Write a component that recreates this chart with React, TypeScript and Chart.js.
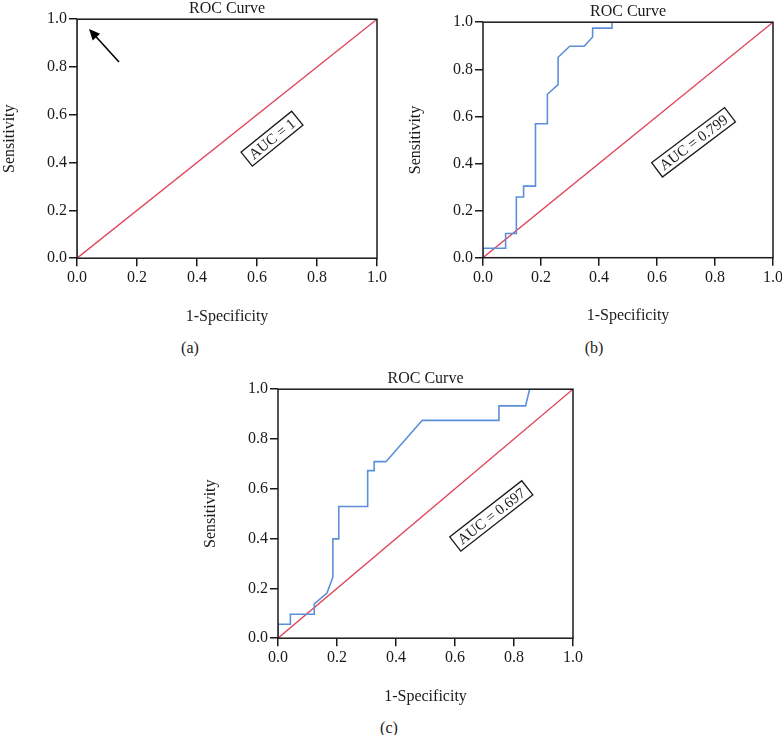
import React, { useEffect, useRef } from "react";
import { Chart, registerables } from "chart.js";

Chart.register(...registerables);

const FONT = "'Liberation Serif', 'Times New Roman', serif";
const INK = "#1a1a1a";
const BLUE = "#5b8fd9";
const RED = "#e0435a";

const chartTitle = "ROC Curve";
const xAxisLabel = "1-Specificity";
const yAxisLabel = "Sensitivity";
const tickValues = [0, 0.2, 0.4, 0.6, 0.8, 1.0];

// reference line
const diagonalX = [0, 1];
const diagonalY = [0, 1];

// panel (a): perfect classifier
const fprA = [0, 0, 1];
const tprA = [0, 1, 1];

// panel (b)
const fprB = [0, 0, 0.078, 0.078, 0.115, 0.115, 0.14, 0.14, 0.181, 0.181, 0.222, 0.222, 0.259, 0.259, 0.299, 0.349, 0.378, 0.378, 0.445, 0.445, 1];
const tprB = [0, 0.04, 0.04, 0.103, 0.103, 0.258, 0.258, 0.304, 0.304, 0.569, 0.569, 0.694, 0.735, 0.851, 0.898, 0.898, 0.937, 0.975, 0.975, 1, 1];

// panel (c)
const fprC = [0, 0, 0.042, 0.042, 0.123, 0.123, 0.166, 0.186, 0.186, 0.206, 0.206, 0.304, 0.304, 0.326, 0.326, 0.366, 0.489, 0.749, 0.749, 0.839, 0.853, 1];
const tprC = [0, 0.056, 0.056, 0.096, 0.096, 0.138, 0.181, 0.245, 0.399, 0.399, 0.529, 0.529, 0.673, 0.673, 0.709, 0.709, 0.875, 0.875, 0.933, 0.933, 1, 1];

const aucLabels = ["AUC = 1", "AUC = 0.799", "AUC = 0.697"];
const aucX = [0.65, 0.726, 0.723];
const aucY = [0.5, 0.49, 0.491];
const aucAngle = [-39, -37, -38];
const panelLabels = ["(a)", "(b)", "(c)"];

// arrow in panel (a) (tail -> head, data units)
const arrowX = [0.14, 0.04];
const arrowY = [0.821, 0.959];

const toPoints = (xs: number[], ys: number[]) => xs.map((x, i) => ({ x, y: ys[i] }));

type PanelProps = {
  left: number;
  top: number;
  width: number;
  height: number;
  plotH: number;
  fpr: number[];
  tpr: number[];
  idx: number;
  arrow?: boolean;
};

const TITLE_BLOCK = 22.2;
const Y_AXIS_W = 77;

function Panel(p: PanelProps) {
  const ref = useRef<HTMLCanvasElement | null>(null);
  useEffect(() => {
    const canvas = ref.current!;
    const xAxisH = p.height - TITLE_BLOCK - p.plotH;
    const overlay = {
      id: "overlay" + p.idx,
      afterDatasetsDraw(chart: any) {
        const ctx = chart.ctx as CanvasRenderingContext2D;
        const a = chart.chartArea;
        const xs = chart.scales.x;
        const ys = chart.scales.y;
        ctx.save();
        // frame
        ctx.strokeStyle = INK;
        ctx.lineWidth = 1.5;
        ctx.strokeRect(a.left, a.top, a.right - a.left, a.bottom - a.top);
        // title centred over the plot area
        ctx.fillStyle = INK;
        ctx.font = `16px ${FONT}`;
        ctx.textAlign = "center";
        ctx.textBaseline = "alphabetic";
        ctx.fillText(chartTitle, (a.left + a.right) / 2, a.top - 6.5);
        // AUC box
        const cx = xs.getPixelForValue(aucX[p.idx]);
        const cy = ys.getPixelForValue(aucY[p.idx]);
        ctx.translate(cx, cy);
        ctx.rotate((aucAngle[p.idx] * Math.PI) / 180);
        ctx.font = `15px ${FONT}`;
        const tw = ctx.measureText(aucLabels[p.idx]).width;
        const bw = tw + 10;
        const bh = 18;
        ctx.fillStyle = "#ffffff";
        ctx.fillRect(-bw / 2, -bh / 2, bw, bh);
        ctx.lineWidth = 1.3;
        ctx.strokeRect(-bw / 2, -bh / 2, bw, bh);
        ctx.fillStyle = INK;
        ctx.textAlign = "center";
        ctx.textBaseline = "middle";
        ctx.fillText(aucLabels[p.idx], 0, 1);
        ctx.restore();
        if (p.arrow) {
          const x0 = xs.getPixelForValue(arrowX[0]);
          const y0 = ys.getPixelForValue(arrowY[0]);
          const x1 = xs.getPixelForValue(arrowX[1]);
          const y1 = ys.getPixelForValue(arrowY[1]);
          const ang = Math.atan2(y1 - y0, x1 - x0);
          const hl = 11;
          const hw = 5;
          ctx.save();
          ctx.strokeStyle = "#000";
          ctx.fillStyle = "#000";
          ctx.lineWidth = 1.6;
          ctx.beginPath();
          ctx.moveTo(x0, y0);
          ctx.lineTo(x1 - Math.cos(ang) * hl * 0.8, y1 - Math.sin(ang) * hl * 0.8);
          ctx.stroke();
          ctx.beginPath();
          ctx.moveTo(x1, y1);
          ctx.lineTo(
            x1 - Math.cos(ang) * hl + Math.sin(ang) * hw,
            y1 - Math.sin(ang) * hl - Math.cos(ang) * hw
          );
          ctx.lineTo(
            x1 - Math.cos(ang) * hl - Math.sin(ang) * hw,
            y1 - Math.sin(ang) * hl + Math.cos(ang) * hw
          );
          ctx.closePath();
          ctx.fill();
          ctx.restore();
        }
      },
    };
    const tickOpts = {
      color: INK,
      font: { family: FONT, size: 16 },
      padding: 2,
      maxRotation: 0,
      autoSkip: false,
      callback: (v: any) => Number(v).toFixed(1),
    };
    const gridOpts = {
      display: true,
      drawOnChartArea: false,
      drawTicks: true,
      tickLength: 8,
      color: INK,
      lineWidth: 1.5,
    };
    const chart = new Chart(canvas, {
      type: "scatter",
      data: {
        datasets: [
          {
            data: toPoints(diagonalX, diagonalY),
            showLine: true,
            borderColor: RED,
            borderWidth: 1.3,
            pointRadius: 0,
            order: 2,
          },
          {
            data: toPoints(p.fpr, p.tpr),
            showLine: true,
            borderColor: BLUE,
            borderWidth: 1.6,
            pointRadius: 0,
            order: 1,
          },
        ],
      },
      options: {
        responsive: false,
        animation: false,
        devicePixelRatio: 1,
        layout: { padding: { left: 0, right: 14, top: TITLE_BLOCK, bottom: 0 } },
        plugins: {
          legend: { display: false },
          tooltip: { enabled: false },
          title: { display: false },
        },
        scales: {
          x: {
            type: "linear",
            min: 0,
            max: 1,
            afterBuildTicks: (s: any) => {
              s.ticks = tickValues.map((v) => ({ value: v }));
            },
            afterFit: (s: any) => {
              s.height = xAxisH;
            },
            ticks: tickOpts,
            grid: gridOpts,
            border: { display: false },
            title: {
              display: true,
              text: xAxisLabel,
              color: INK,
              font: { family: FONT, size: 16 },
              padding: { top: 0, bottom: 0 },
            },
          },
          y: {
            type: "linear",
            min: 0,
            max: 1,
            afterBuildTicks: (s: any) => {
              s.ticks = tickValues.map((v) => ({ value: v }));
            },
            afterFit: (s: any) => {
              s.width = Y_AXIS_W;
            },
            ticks: tickOpts,
            grid: gridOpts,
            border: { display: false },
            title: {
              display: true,
              text: yAxisLabel,
              color: INK,
              font: { family: FONT, size: 16 },
              padding: { top: 0, bottom: 0 },
            },
          },
        },
      } as any,
      plugins: [overlay],
    });
    return () => chart.destroy();
  }, []);
  return (
    <canvas
      ref={ref}
      width={p.width}
      height={p.height}
      style={{
        position: "absolute",
        left: p.left,
        top: p.top,
        width: p.width,
        height: p.height,
      }}
    />
  );
}

const labelStyle = (cx: number, cy: number): React.CSSProperties => ({
  position: "absolute",
  left: cx,
  top: cy,
  transform: "translate(-50%, -50%)",
  fontFamily: FONT,
  fontSize: 16,
  lineHeight: "16px",
  color: INK,
  whiteSpace: "nowrap",
});

export default function App() {
  return (
    <div
      style={{
        position: "fixed",
        left: 0,
        top: 0,
        width: 782,
        height: 735,
        overflow: "hidden",
        background: "#ffffff",
      }}
    >
      <Panel left={0} top={-3} width={391} height={329} plotH={239} fpr={fprA} tpr={tprA} idx={0} arrow />
      <Panel left={406} top={0} width={381} height={325} plotH={235.5} fpr={fprB} tpr={tprB} idx={1} />
      <Panel left={201} top={367} width={386} height={339} plotH={249} fpr={fprC} tpr={tprC} idx={2} />
      <div style={labelStyle(190, 348)}>{panelLabels[0]}</div>
      <div style={labelStyle(594, 348)}>{panelLabels[1]}</div>
      <div style={labelStyle(389, 728)}>{panelLabels[2]}</div>
    </div>
  );
}
